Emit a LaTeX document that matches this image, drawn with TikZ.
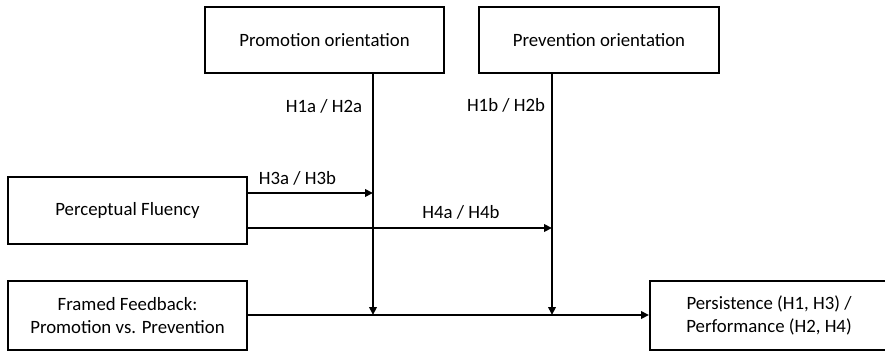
\documentclass[tikz,border=0pt]{standalone}
\usepackage{fontspec}
\setmainfont{Carlito}
\usetikzlibrary{arrows.meta}
\begin{document}
\begin{tikzpicture}[x=1pt,y=1pt,
  box/.style={draw=black,line width=2pt,rectangle,align=center,inner sep=0pt,font=\fontsize{18.8}{22.5}\selectfont},
  lbl/.style={inner sep=0pt,anchor=base,font=\fontsize{18.8}{22}\selectfont},
  conn/.style={line width=2.3pt},
  arr/.style={conn,-{Triangle[length=8pt,width=7.5pt]}}]
\useasboundingbox (0,0) rectangle (885,351);
\node[box,minimum width=239pt,minimum height=66pt] (promo) at (324.5,311) {Promotion orientation};
\node[box,minimum width=240pt,minimum height=66pt] (prev) at (599,311) {Prevention orientation};
\node[box,minimum width=239pt,minimum height=67pt] (flu) at (127.5,140.5) {Perceptual Fluency};
\node[box,minimum width=239pt,minimum height=69pt] (fram) at (127.5,35.5) {Framed Feedback:\\Promotion vs. Prevention};
\node[box,minimum width=238pt,minimum height=69pt] (pers) at (769,35.5) {Persistence (H1, H3) /\\Performance (H2, H4)};
\coordinate (j1) at (373,36);
\coordinate (j2) at (552,36);
\coordinate (h3) at (373,158);
\coordinate (h4) at (552,123);
\draw[arr] (promo.south -| j1) -- (j1);
\draw[arr] (prev.south -| j2) -- (j2);
\draw[arr] (flu.east |- h3) -- (h3);
\draw[arr] (flu.east |- h4) -- (h4);
\draw[arr] (fram.east |- j1) -- (pers.west |- j1);
\node[lbl] (l1) at (324,238) {H1a / H2a};
\node[lbl] (l2) at (506,239) {H1b / H2b};
\node[lbl] (l3) at (297.5,167) {H3a / H3b};
\node[lbl] (l4) at (461,133) {H4a / H4b};
\end{tikzpicture}
\end{document}
